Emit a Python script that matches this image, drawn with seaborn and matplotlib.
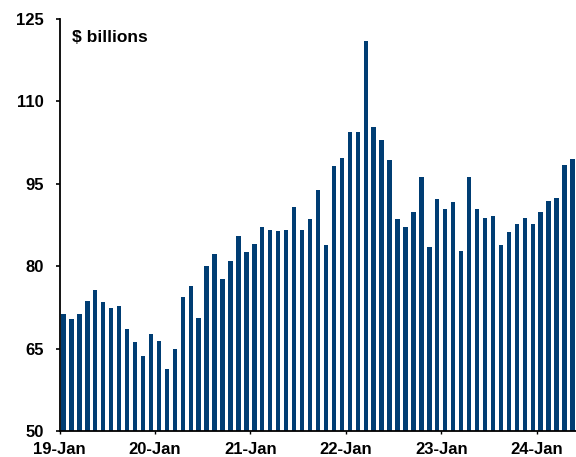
import matplotlib
matplotlib.use("Agg")
import matplotlib.pyplot as plt
import seaborn as sns
import pandas as pd

# Monthly values, $ billions (Jan 2019 - May 2024)
vals_2019 = [71.3, 70.3, 71.3, 73.7, 75.6, 73.5, 72.4, 72.7, 68.6, 66.2, 63.6, 67.7]
vals_2020 = [66.4, 61.3, 65.0, 74.4, 76.3, 70.6, 80.0, 82.2, 77.7, 80.9, 85.4, 82.6]
vals_2021 = [84.0, 87.1, 86.5, 86.4, 86.6, 90.7, 86.6, 88.6, 93.9, 83.9, 98.3, 99.6]
vals_2022 = [104.4, 104.4, 120.9, 105.3, 103.0, 99.3, 88.5, 87.2, 89.8, 96.2, 83.4, 92.2]
vals_2023 = [90.4, 91.6, 82.8, 96.2, 90.4, 88.8, 89.2, 83.8, 86.2, 87.7, 88.7, 87.6]
vals_2024 = [89.9, 91.9, 92.4, 98.4, 99.5]

values = vals_2019 + vals_2020 + vals_2021 + vals_2022 + vals_2023 + vals_2024
months = [d.strftime("%Y-%m") for d in pd.date_range("2019-01-01", periods=len(values), freq="MS")]
tick_labels = ["19-Jan", "20-Jan", "21-Jan", "22-Jan", "23-Jan", "24-Jan"]
y_ticks = [50, 65, 80, 95, 110, 125]

df = pd.DataFrame({"month": months, "value": values})

plt.rcParams["font.family"] = ["Liberation Sans", "DejaVu Sans"]
plt.rcParams["font.weight"] = "bold"

fig = plt.figure(figsize=(5.76, 4.57), dpi=100)
ax = fig.add_axes([0.1033, 0.057, 0.8975, 0.9015])

sns.barplot(data=df, x="month", y="value", order=months, color="#003d73",
            saturation=1, width=0.55, linewidth=0, ax=ax)

ax.set_ylim(50, 125)
ax.set_yticks(y_ticks)
ax.set_yticklabels([str(t) for t in y_ticks], fontsize=12, fontweight="bold")
ax.set_xlim(-0.5, len(values) - 0.5)
ax.set_xticks([-0.5 + 12 * i for i in range(len(tick_labels))])
ax.set_xticklabels(tick_labels, fontsize=12, fontweight="bold")

ax.set_xlabel("")
ax.set_ylabel("")
for s in ["top", "right"]:
    ax.spines[s].set_visible(False)
for s in ["left", "bottom"]:
    ax.spines[s].set_linewidth(1.3)
    ax.spines[s].set_color("black")
ax.tick_params(axis="y", direction="out", length=3.2, width=1.2, pad=8)
ax.tick_params(axis="x", direction="out", length=2.5, width=1.0, pad=5.5)

ax.text(0.024, 0.956, "$ billions", transform=ax.transAxes, fontsize=12.5,
        fontweight="bold", ha="left", va="center")

fig.savefig("out.png", dpi=100)
